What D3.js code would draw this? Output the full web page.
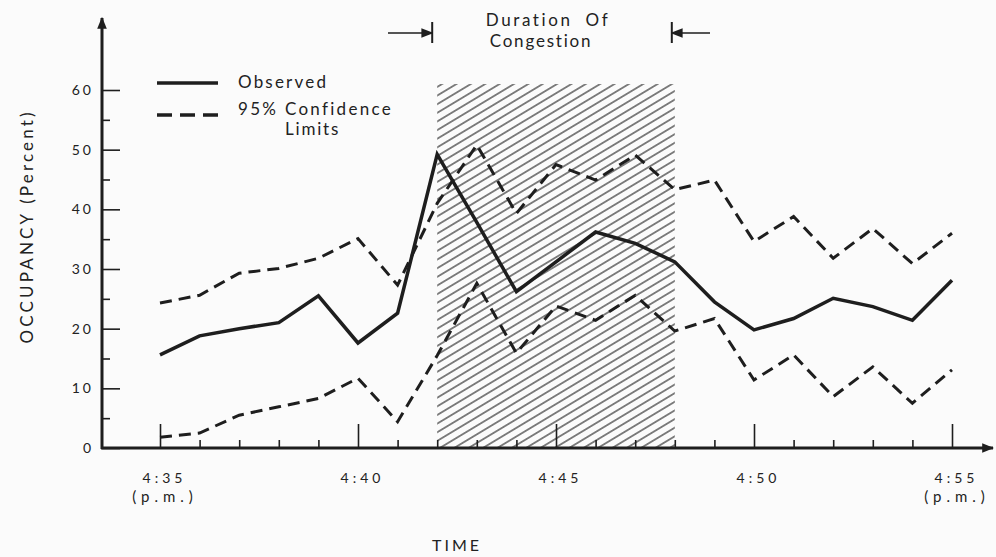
<!DOCTYPE html>
<html>
<head>
<meta charset="utf-8">
<script src="https://cdn.jsdelivr.net/npm/d3@7"></script>
<style>
  body { margin: 0; background: #fbfbfb; }
  svg text { font-family: Lato, "DejaVu Sans", sans-serif; fill: #222; }
</style>
</head>
<body>
<svg id="chart" width="996" height="557"></svg>
<script>
// minutes after 4:00 p.m.
const minutes = [35, 36, 37, 38, 39, 40, 41, 42, 43, 44, 45, 46, 47, 48, 49, 50, 51, 52, 53, 54, 55];
const observed = [15.6, 18.8, 20.0, 21.0, 25.5, 17.6, 22.6, 49.2, 37.8, 26.2, 31.2, 36.2, 34.3, 31.2, 24.5, 19.8, 21.7, 25.1, 23.7, 21.4, 28.1];
const upperLimit = [24.3, 25.6, 29.3, 30.1, 31.8, 35.1, 27.3, 41.0, 50.8, 39.3, 47.5, 44.9, 49.1, 43.3, 44.9, 34.6, 38.8, 31.8, 36.8, 30.9, 36.0];
const lowerLimit = [1.8, 2.5, 5.5, 6.9, 8.3, 11.7, 4.4, 15.5, 27.6, 15.9, 23.8, 21.4, 25.6, 19.6, 21.7, 11.4, 15.6, 8.6, 13.6, 7.5, 13.1];
const majorTicks = [35, 40, 45, 50, 55];
const majorLabels = ['4:35', '4:40', '4:45', '4:50', '4:55'];
const yTicks = [0, 10, 20, 30, 40, 50, 60];
const yMinorTicks = [5, 15, 25, 35, 45, 55];
const congestion = [42, 48];
const congestionTop = 61;

const ink = '#1e1e1e';

function translate(x, y) {
  return `translate(${x}, ${y})`;
}

const svg = d3.select('#chart');

const xScale = d3.scaleLinear().domain([35, 55]).range([160, 952]);
const yScale = d3.scaleLinear().domain([0, 60]).range([448, 90]);
const x0 = 102;

// ---------- defs ----------
const defs = svg.append('defs');

defs.append('pattern')
  .attr('id', 'hatch')
  .attr('patternUnits', 'userSpaceOnUse')
  .attr('width', 20)
  .attr('height', 7.4)
  .attr('patternTransform', 'rotate(-31)')
  .append('line')
    .attr('x1', 0).attr('x2', 20)
    .attr('y1', 3.7).attr('y2', 3.7)
    .attr('stroke', '#333')
    .attr('stroke-width', 1.2);

defs.append('marker')
  .attr('id', 'arrow')
  .attr('viewBox', '0 0 10 10')
  .attr('refX', 9).attr('refY', 5)
  .attr('markerWidth', 12).attr('markerHeight', 12)
  .attr('markerUnits', 'userSpaceOnUse')
  .attr('orient', 'auto')
  .append('path')
    .attr('d', 'M0,1 L10,5 L0,9 Z')
    .attr('fill', ink);

// ---------- congestion hatch ----------
svg.append('rect')
  .attr('x', xScale(congestion[0]))
  .attr('y', yScale(congestionTop))
  .attr('width', xScale(congestion[1]) - xScale(congestion[0]))
  .attr('height', yScale(0) - yScale(congestionTop))
  .attr('fill', 'url(#hatch)');

// ---------- axes ----------
const minorAxis = d3.axisBottom(xScale)
  .tickValues(minutes.filter(m => majorTicks.indexOf(m) < 0))
  .tickSizeInner(-8).tickSizeOuter(0)
  .tickFormat('');

const majorAxis = d3.axisBottom(xScale)
  .tickValues(majorTicks)
  .tickSizeInner(-24).tickSizeOuter(0).tickPadding(35)
  .tickFormat((d, i) => majorLabels[i]);

svg.append('g').attr('class', 'x minor').attr('transform', translate(0, yScale(0))).call(minorAxis);
svg.append('g').attr('class', 'x major').attr('transform', translate(0, yScale(0))).call(majorAxis);

const yAxis = d3.axisLeft(yScale)
  .tickValues(yTicks)
  .tickSizeInner(-18).tickSizeOuter(0).tickPadding(10);
const yMinorAxis = d3.axisLeft(yScale)
  .tickValues(yMinorTicks)
  .tickSizeInner(-8).tickSizeOuter(0)
  .tickFormat('');

svg.append('g').attr('class', 'y axis').attr('transform', translate(x0, 0)).call(yAxis);
svg.append('g').attr('class', 'y minor').attr('transform', translate(x0, 0)).call(yMinorAxis);

svg.selectAll('.domain').remove();
svg.selectAll('.tick line').attr('stroke', ink).attr('stroke-width', 1.6);
svg.selectAll('.tick text')
  .attr('fill', ink)
  .style('font-size', '14px')
  .style('letter-spacing', '3px');
svg.selectAll('.x.major .tick text').attr('dy', 0).attr('dx', 4).style('letter-spacing', '4px');
svg.selectAll('.y.axis .tick text').attr('dx', 2);

// axis lines with arrows
svg.append('line')
  .attr('x1', x0).attr('x2', x0)
  .attr('y1', yScale(0) + 1).attr('y2', 18)
  .attr('stroke', ink).attr('stroke-width', 3)
  .attr('marker-end', 'url(#arrow)');
svg.append('line')
  .attr('x1', x0 - 1).attr('x2', 993)
  .attr('y1', yScale(0)).attr('y2', yScale(0))
  .attr('stroke', ink).attr('stroke-width', 3)
  .attr('marker-end', 'url(#arrow)');

// (p.m.) under first and last labels
svg.selectAll('.pm')
  .data([35, 55])
  .enter()
  .append('text')
    .attr('class', 'pm')
    .attr('x', d => xScale(d) + 5)
    .attr('y', 502)
    .attr('text-anchor', 'middle')
    .style('font-size', '15px')
    .style('letter-spacing', '5px')
    .text('(p.m.)');

// axis titles
svg.append('text')
  .attr('transform', translate(33, 228) + ' rotate(-90)')
  .attr('text-anchor', 'middle')
  .attr('textLength', 231)
  .attr('lengthAdjust', 'spacing')
  .style('font-size', '17px')
  .text('OCCUPANCY (Percent)');

svg.append('text')
  .attr('x', 457).attr('y', 551)
  .attr('text-anchor', 'middle')
  .style('font-size', '16px')
  .style('letter-spacing', '3px')
  .text('TIME');

// ---------- lines ----------
const line = d3.line()
  .x((d, i) => xScale(minutes[i]))
  .y(d => yScale(d));

[upperLimit, lowerLimit].forEach(series => {
  svg.append('path')
    .datum(series)
    .attr('class', 'line limit')
    .attr('d', line)
    .attr('fill', 'none')
    .attr('stroke', ink)
    .attr('stroke-width', 3)
    .attr('stroke-dasharray', '12,7');
});

svg.append('path')
  .datum(observed)
  .attr('class', 'line observed')
  .attr('d', line)
  .attr('fill', 'none')
  .attr('stroke', ink)
  .attr('stroke-width', 3.5)
  .attr('stroke-linejoin', 'miter');

// ---------- legend ----------
const legend = svg.append('g').attr('class', 'legend');
legend.append('line')
  .attr('x1', 157).attr('x2', 218).attr('y1', 83).attr('y2', 83)
  .attr('stroke', ink).attr('stroke-width', 3.5);
legend.append('line')
  .attr('x1', 157).attr('x2', 218).attr('y1', 115).attr('y2', 115)
  .attr('stroke', ink).attr('stroke-width', 3.5)
  .attr('stroke-dasharray', '15,8');
legend.append('text').attr('x', 238).attr('y', 88)
  .style('font-size', '17px').style('letter-spacing', '2.2px').text('Observed');
legend.append('text').attr('x', 238).attr('y', 115)
  .style('font-size', '17px').style('letter-spacing', '2.3px').text('95% Confidence');
legend.append('text').attr('x', 285).attr('y', 135)
  .style('font-size', '17px').style('letter-spacing', '1.8px').text('Limits');

// ---------- duration of congestion ----------
const dur = svg.append('g').attr('class', 'duration');
const xa = xScale(congestion[0]) - 5;
const xb = xScale(congestion[1]) - 3;
dur.append('line')
  .attr('x1', 388).attr('x2', xa).attr('y1', 33).attr('y2', 33)
  .attr('stroke', ink).attr('stroke-width', 1.6)
  .attr('marker-end', 'url(#arrow)');
dur.append('line')
  .attr('x1', 710).attr('x2', xb).attr('y1', 33).attr('y2', 33)
  .attr('stroke', ink).attr('stroke-width', 1.6)
  .attr('marker-end', 'url(#arrow)');
[xa, xb].forEach(x => {
  dur.append('line')
    .attr('x1', x).attr('x2', x).attr('y1', 22).attr('y2', 43)
    .attr('stroke', ink).attr('stroke-width', 2);
});
dur.append('text').attr('x', 548).attr('y', 26).attr('text-anchor', 'middle')
  .style('font-size', '17px').style('letter-spacing', '2.6px').style('word-spacing', '6px')
  .text('Duration Of');
dur.append('text').attr('x', 541).attr('y', 47).attr('text-anchor', 'middle')
  .style('font-size', '17px').style('letter-spacing', '1.8px')
  .text('Congestion');
</script>
</body>
</html>
